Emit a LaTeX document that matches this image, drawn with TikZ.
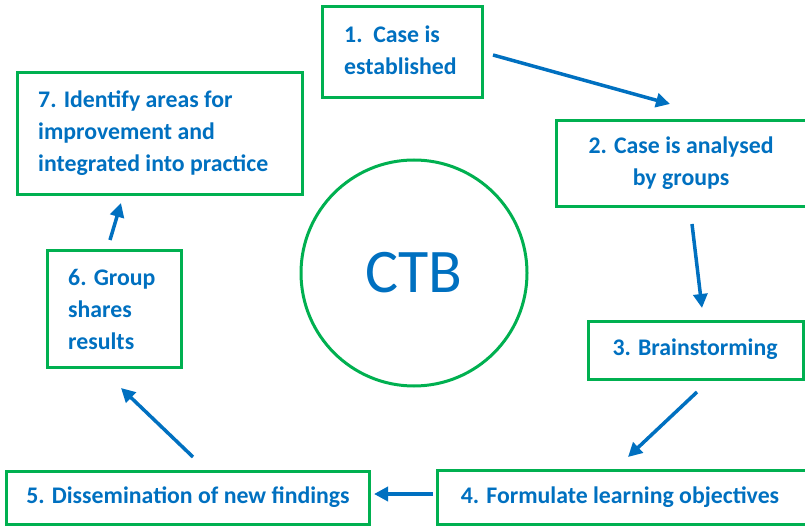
\documentclass[tikz,border=0pt]{standalone}
\usepackage{fontspec}
\setmainfont{Carlito}
\usetikzlibrary{arrows.meta}
\definecolor{bgreen}{HTML}{00B050}
\definecolor{bblue}{HTML}{0070C0}
\begin{document}
\begin{tikzpicture}[x=1pt,y=-1pt,
  box/.style={draw=bgreen,line width=3pt},
  lbl/.style={text=bblue,font=\bfseries\fontsize{23.8}{32}\selectfont,inner sep=0pt},
  arr/.style={draw=bblue,line width=3.5pt,-{Triangle[length=14pt,width=14pt]}}]
\useasboundingbox (0,0) rectangle (805,526);
% boxes
\draw[box] (322,7) rectangle (482,98);
\node[lbl,align=left,anchor=west] (t1) at (344,50) {1.\ \ Case is\\established};
\draw[box] (556,121) rectangle (806,207);
\node[lbl,align=center] (t2) at (681,163) {2. Case is analysed\\by groups};
\draw[box] (588,321) rectangle (803,379);
\node[lbl] (t3) at (695,349) {3. Brainstorming};
\draw[box] (437,470) rectangle (806,524);
\node[lbl] (t4) at (620,497) {4. Formulate learning objectives};
\draw[box] (6,471) rectangle (369,524);
\node[lbl] (t5) at (188,497) {5. Dissemination of new findings};
\draw[box] (47,251) rectangle (181,367);
\node[lbl,align=left,anchor=west] (t6) at (68,309) {6. Group\\shares\\results};
\draw[box] (17,73) rectangle (302,195);
\node[lbl,align=left,anchor=west] (t7) at (38,133) {7. Identify areas for\\improvement and\\integrated into practice};
% circle
\node[draw=bgreen,line width=3pt,circle,minimum size=226pt,inner sep=0pt,text=bblue,font=\fontsize{62}{70}\selectfont] (ctb) at (414,273) {CTB};
% arrows
\coordinate (a1s) at (493,55); \coordinate (a1e) at (670,104);
\coordinate (a2s) at (692,224); \coordinate (a2e) at (702,308);
\coordinate (a3s) at (697,392); \coordinate (a3e) at (628,457);
\coordinate (a4s) at (433,494); \coordinate (a4e) at (374,494);
\coordinate (a5s) at (193,457); \coordinate (a5e) at (121,388);
\coordinate (a6s) at (110,240); \coordinate (a6e) at (121,203);
\draw[arr] (a1s) -- (a1e);
\draw[arr] (a2s) -- (a2e);
\draw[arr] (a3s) -- (a3e);
\draw[arr] (a4s) -- (a4e);
\draw[arr] (a5s) -- (a5e);
\draw[arr] (a6s) -- (a6e);
\end{tikzpicture}
\end{document}
